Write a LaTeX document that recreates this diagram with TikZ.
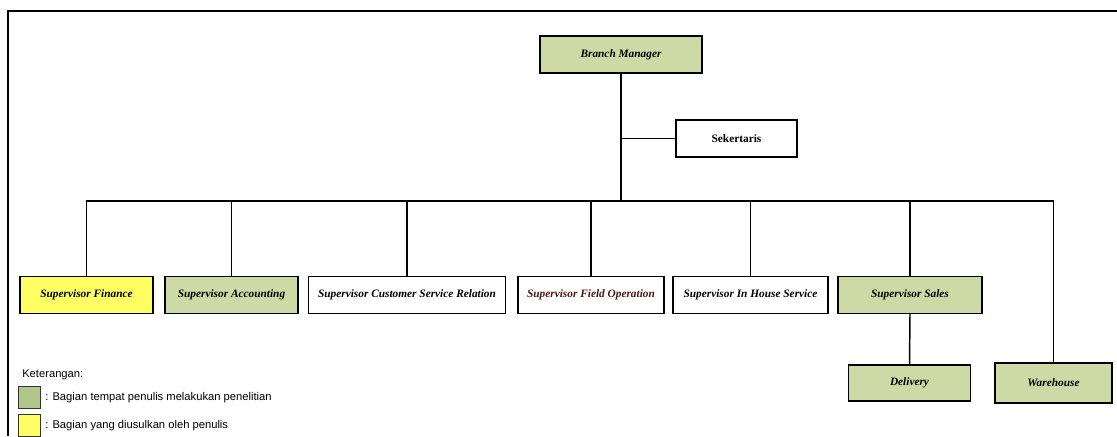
\documentclass[tikz,border=0pt]{standalone}
\usepackage{fontspec}
\setmainfont{Liberation Serif}
\newfontfamily\legendfont{Liberation Sans}
\definecolor{unitgreen}{RGB}{205,218,166}
\definecolor{keygreen}{RGB}{176,198,138}
\definecolor{unityellow}{RGB}{255,255,100}
\definecolor{fieldred}{RGB}{80,20,20}
\begin{document}
\begin{tikzpicture}[x=0.75pt,y=-0.75pt,
  box/.style 2 args={draw=black, line width=1.1pt, inner sep=0pt,
    minimum width=#1*0.75pt, minimum height=#2*0.75pt,
    font=\fontsize{8.5}{10}\selectfont\bfseries\itshape},
  link/.style={line width=1.1pt, draw=black},
  keybox/.style={draw=black!80, line width=0.8pt, inner sep=0pt,
    minimum width=17pt, minimum height=16pt},
  keytext/.style={anchor=west, inner sep=0pt,
    font=\fontsize{8.4}{10}\legendfont}]
\useasboundingbox (0,0) rectangle (1117,436);
\fill[white] (0,0) rectangle (1117,436);
% outer frame (top and left edges only)
\draw[line width=1.1pt] (8,436) -- (8,11) -- (1117,11);

% head and staff
\node[box={162}{37}, fill=unitgreen] (bm) at (621,54.5) {Branch Manager};
\node[box={121}{37}, fill=white, font=\fontsize{8.5}{10}\selectfont\bfseries] (sek) at (736.5,138.5) {Sekertaris};
\coordinate (bus) at (621,201);

% supervisors
\node[box={133}{37}, fill=unityellow] (fin) at (86.5,295) {Supervisor Finance};
\node[box={133}{37}, fill=unitgreen] (acc) at (231.5,295) {Supervisor Accounting};
\node[box={197}{37}, fill=white] (csr) at (407,295) {Supervisor Customer Service Relation};
\node[box={146}{37}, fill=white, text=fieldred] (fop) at (591,295) {Supervisor Field Operation};
\node[box={155}{37}, fill=white] (ihs) at (750.5,295) {Supervisor In House Service};
\node[box={144}{37}, fill=unitgreen] (sal) at (910,295) {Supervisor Sales};

% lower units
\node[box={122}{36}, fill=unitgreen] (del) at (909.5,383) {Delivery};
\node[box={117}{40}, fill=unitgreen] (wh) at (1053.5,383) {Warehouse};

% connectors
\draw[link] (bm.south) -- (bus);
\draw[link] (sek.west) -- (sek.west -| bm.south);
\draw[link] (fin.north) |- (bus) -| (wh.north);
\foreach \n in {acc,csr,fop,ihs,sal}
  \draw[link] (\n.north) -- (\n.north |- bus);
\draw[link] (sal.south) -- (del.north);

% legend
\node[keytext] (ket) at (22,375) {Keterangan:};
\node[keybox, fill=keygreen] (kg) at (29.5,397.5) {};
\node[keytext] (kgt) at (45,397.5) {: Bagian tempat penulis melakukan penelitian};
\node[keybox, fill=unityellow] (ky) at (29.5,425.5) {};
\node[keytext] (kyt) at (45,425.5) {: Bagian yang diusulkan oleh penulis};
\end{tikzpicture}
\end{document}
